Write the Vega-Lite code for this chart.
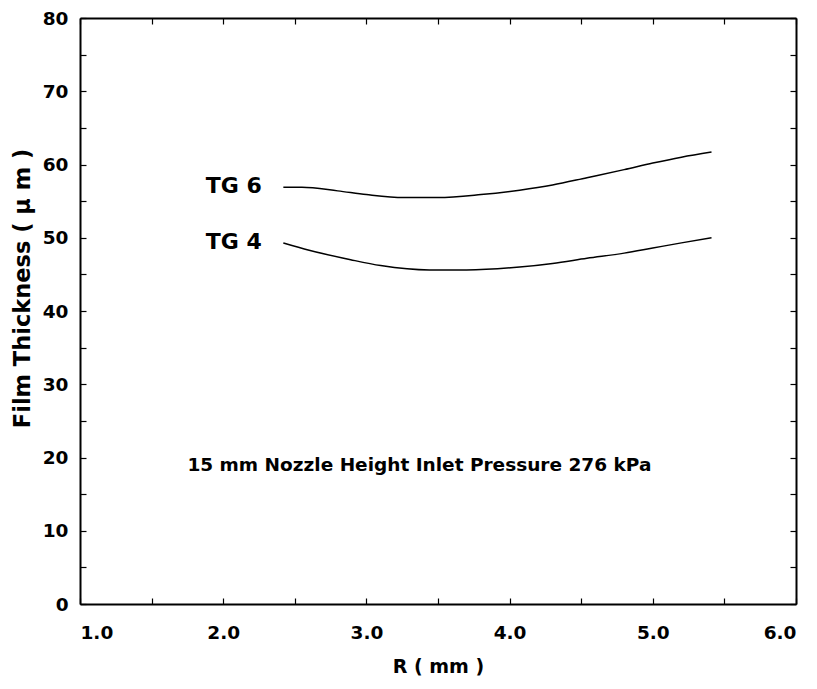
{
  "$schema": "https://vega.github.io/schema/vega-lite/v6.json",
  "width": 716,
  "height": 586,
  "autosize": {"type": "none"},
  "padding": {"left": 80, "top": 18, "right": 21, "bottom": 85},
  "background": "white",
  "config": {
    "view": {"stroke": null},
    "font": "DejaVu Sans",
    "axis": {
      "domainColor": "black",
      "domainWidth": 2,
      "tickColor": "black",
      "tickWidth": 1.2,
      "tickSize": -6,
      "grid": false,
      "labelFont": "DejaVu Sans",
      "labelFontWeight": "bold",
      "labelFontSize": 18.5,
      "labelColor": "black",
      "titleFont": "DejaVu Sans",
      "titleFontWeight": "bold",
      "titleColor": "black"
    }
  },
  "datasets": {
    "curves": [
      {"R": 2.42, "T": 56.9, "series": "TG 6"},
      {"R": 2.55, "T": 56.9, "series": "TG 6"},
      {"R": 2.8, "T": 56.4, "series": "TG 6"},
      {"R": 3.0, "T": 55.9, "series": "TG 6"},
      {"R": 3.26, "T": 55.5, "series": "TG 6"},
      {"R": 3.5, "T": 55.5, "series": "TG 6"},
      {"R": 3.8, "T": 55.9, "series": "TG 6"},
      {"R": 4.07, "T": 56.5, "series": "TG 6"},
      {"R": 4.3, "T": 57.2, "series": "TG 6"},
      {"R": 4.54, "T": 58.2, "series": "TG 6"},
      {"R": 4.8, "T": 59.3, "series": "TG 6"},
      {"R": 5.0, "T": 60.2, "series": "TG 6"},
      {"R": 5.2, "T": 61.0, "series": "TG 6"},
      {"R": 5.41, "T": 61.7, "series": "TG 6"},
      {"R": 2.42, "T": 49.3, "series": "TG 4"},
      {"R": 2.6, "T": 48.3, "series": "TG 4"},
      {"R": 2.89, "T": 47.0, "series": "TG 4"},
      {"R": 3.1, "T": 46.2, "series": "TG 4"},
      {"R": 3.44, "T": 45.6, "series": "TG 4"},
      {"R": 3.7, "T": 45.6, "series": "TG 4"},
      {"R": 4.07, "T": 46.0, "series": "TG 4"},
      {"R": 4.3, "T": 46.5, "series": "TG 4"},
      {"R": 4.54, "T": 47.2, "series": "TG 4"},
      {"R": 4.8, "T": 47.9, "series": "TG 4"},
      {"R": 5.0, "T": 48.6, "series": "TG 4"},
      {"R": 5.2, "T": 49.3, "series": "TG 4"},
      {"R": 5.41, "T": 50.0, "series": "TG 4"}
    ],
    "labels": [
      {"R": 2.27, "T": 57.0, "text": "TG 6"},
      {"R": 2.27, "T": 49.4, "text": "TG 4"}
    ],
    "note": [
      {"R": 3.37, "T": 19.0, "text": "15 mm Nozzle Height Inlet Pressure 276 kPa"}
    ]
  },
  "resolve": {"axis": {"x": "independent", "y": "independent"}},
  "layer": [
    {
      "data": {"name": "curves"},
      "mark": {"type": "line", "color": "black", "strokeWidth": 1.5, "interpolate": "monotone"},
      "encoding": {
        "x": {
          "field": "R", "type": "quantitative",
          "scale": {"domain": [1, 6], "nice": false, "zero": false},
          "axis": {
            "values": [1, 1.5, 2, 2.5, 3, 3.5, 4, 4.5, 5, 5.5, 6],
            "labelExpr": "datum.value % 1 === 0 ? format(datum.value, '.1f') : ''",
            "labelPadding": 25,
            "title": "R  ( mm )",
            "titleFontSize": 19,
            "titleY": 62,
            "titleBaseline": "middle"
          }
        },
        "y": {
          "field": "T", "type": "quantitative",
          "scale": {"domain": [0, 80], "nice": false},
          "axis": {
            "values": [0, 5, 10, 15, 20, 25, 30, 35, 40, 45, 50, 55, 60, 65, 70, 75, 80],
            "labelExpr": "datum.value % 10 === 0 ? datum.label : ''",
            "labelPadding": 18,
            "title": "Film Thickness ( µ m )",
            "titleFontSize": 22.5,
            "titleX": -58,
            "titleY": 270,
            "titleBaseline": "middle",
            "titleAlign": "center",
            "titleAngle": -90
          }
        },
        "detail": {"field": "series"}
      }
    },
    {
      "data": {"name": "labels"},
      "mark": {"type": "text", "align": "right", "baseline": "middle", "font": "DejaVu Sans", "fontWeight": "bold", "fontSize": 22, "color": "black"},
      "encoding": {
        "x": {
          "field": "R", "type": "quantitative",
          "axis": {
            "orient": "top",
            "values": [1, 1.5, 2, 2.5, 3, 3.5, 4, 4.5, 5, 5.5, 6],
            "labels": false,
            "title": null
          }
        },
        "y": {
          "field": "T", "type": "quantitative",
          "axis": {
            "orient": "right",
            "values": [0, 5, 10, 15, 20, 25, 30, 35, 40, 45, 50, 55, 60, 65, 70, 75, 80],
            "labels": false,
            "title": null
          }
        },
        "text": {"field": "text"}
      }
    },
    {
      "data": {"name": "note"},
      "mark": {"type": "text", "align": "center", "baseline": "middle", "font": "DejaVu Sans", "fontWeight": "bold", "fontSize": 18.5, "color": "black"},
      "encoding": {
        "x": {"field": "R", "type": "quantitative", "axis": null},
        "y": {"field": "T", "type": "quantitative", "axis": null},
        "text": {"field": "text"}
      }
    }
  ]
}
